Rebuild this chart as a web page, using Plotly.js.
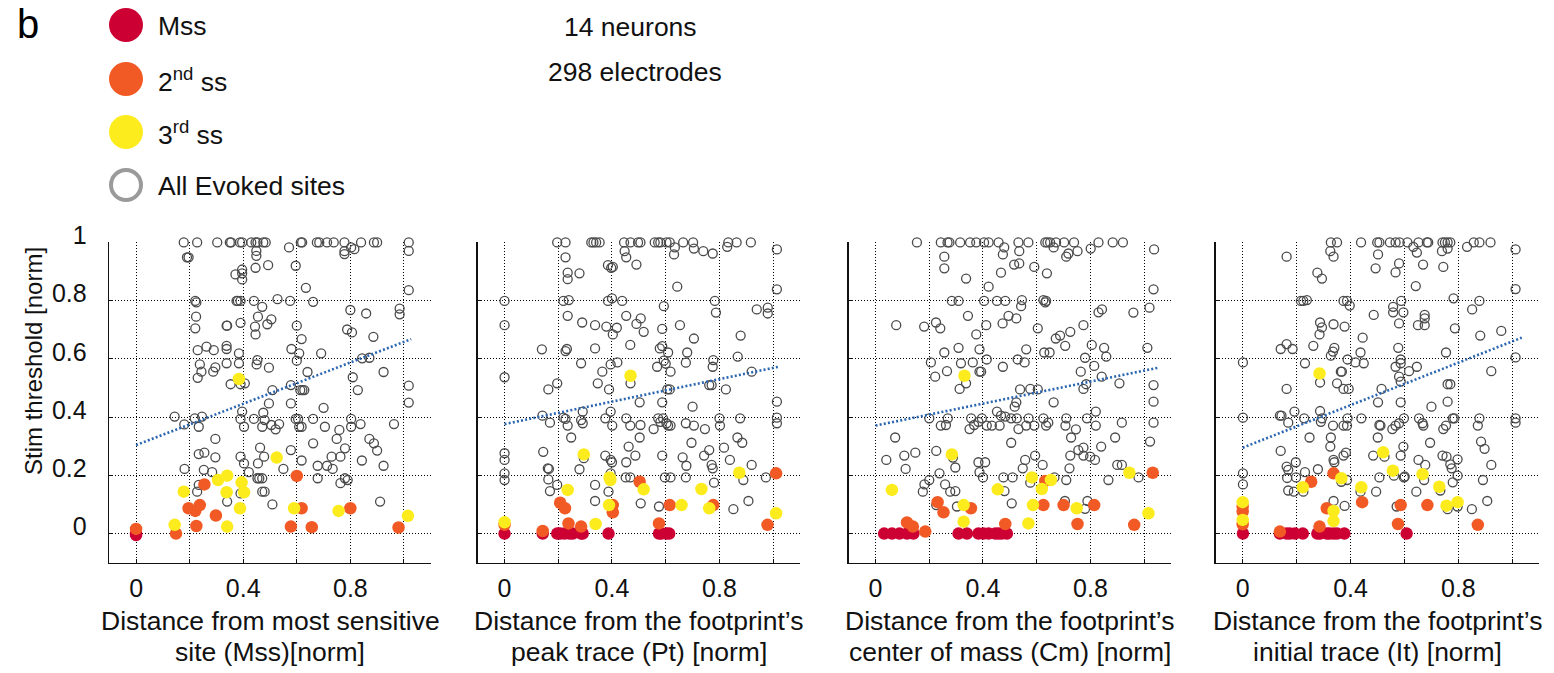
<!DOCTYPE html>
<html><head><meta charset="utf-8">
<script src="https://cdn.plot.ly/plotly-3.0.1.min.js"></script>
<style>html,body{margin:0;padding:0;background:#fff}#chart{width:1554px;height:673px}</style>
</head><body><div id="chart"></div>
<script>
// ---------------- DATA ----------------
const legendLabels = ["Mss", "2<sup>nd</sup> ss", "3<sup>rd</sup> ss", "All Evoked sites"];
const summaryText = ["14 neurons", "298 electrodes"];
const yTickVals = [0, 0.2, 0.4, 0.6, 0.8, 1];
const yTickText = ["0", "0.2", "0.4", "0.6", "0.8", "1"];
const xTickVals = [0, 0.4, 0.8];
const xTickText = ["0", "0.4", "0.8"];
const xTitles = [
  ["Distance from most sensitive", "site (Mss)[norm]"],
  ["Distance from the footprint\u2019s", "peak trace (Pt) [norm]"],
  ["Distance from the footprint\u2019s", "center of mass (Cm) [norm]"],
  ["Distance from the footprint\u2019s", "initial trace (It) [norm]"]
];
const yTitle = "Stim threshold [norm]";

// Panel 1 : Mss distance
const p1TopRowX = [0.178,0.228,0.303,0.35,0.355,0.388,0.396,0.43,0.446,0.453,0.475,0.484,0.615,0.62,0.675,0.684,0.713,0.738,0.778,0.84,0.888,0.9,1.018];
const p1Evoked = [[0.196,0.949],[0.19,0.949],[0.449,0.971],[0.449,0.954],[0.571,0.983],[0.778,0.970],[0.778,0.96],[0.803,0.983],[0.815,0.977],[1.018,0.971],[0.446,0.913],[0.493,0.922],[0.596,0.92],[0.396,0.907],[0.396,0.894],[0.371,0.89],[0.396,0.873],[0.634,0.844],[1.018,0.836],[0.528,0.805],[0.575,0.799],[0.661,0.796],[0.221,0.799],[0.225,0.794],[0.375,0.799],[0.38,0.799],[0.39,0.799],[0.44,0.799],[0.471,0.779],[0.8,0.768],[0.984,0.773],[0.984,0.753],[0.859,0.756],[0.224,0.745],[0.455,0.745],[0.505,0.736],[0.39,0.724],[0.338,0.714],[0.34,0.714],[0.49,0.719],[0.444,0.711],[0.6,0.714],[0.221,0.705],[0.788,0.701],[0.806,0.691],[0.446,0.684],[0.618,0.668],[0.886,0.676],[0.263,0.642],[0.23,0.63],[0.29,0.63],[0.338,0.645],[0.338,0.634],[0.58,0.634],[0.691,0.619],[0.609,0.619],[0.384,0.619],[0.6,0.594],[0.453,0.596],[0.45,0.581],[0.384,0.585],[0.338,0.585],[0.238,0.581],[0.496,0.57],[0.844,0.602],[0.871,0.604],[0.296,0.571],[0.244,0.556],[0.288,0.556],[0.23,0.535],[0.64,0.555],[0.924,0.555],[0.809,0.537],[0.353,0.513],[0.406,0.516],[0.39,0.513],[0.578,0.51],[0.613,0.493],[0.621,0.493],[0.628,0.493],[0.509,0.493],[0.828,0.493],[1.018,0.508],[1.018,0.45],[0.496,0.447],[0.578,0.447],[0.7,0.432],[0.144,0.402],[0.18,0.375],[0.219,0.396],[0.246,0.402],[0.234,0.367],[0.396,0.419],[0.39,0.394],[0.44,0.394],[0.475,0.415],[0.48,0.39],[0.471,0.367],[0.403,0.367],[0.505,0.373],[0.521,0.358],[0.534,0.376],[0.596,0.394],[0.605,0.394],[0.609,0.367],[0.618,0.367],[0.661,0.394],[0.705,0.367],[0.759,0.356],[0.803,0.394],[0.803,0.367],[0.838,0.376],[0.963,0.376],[0.296,0.325],[0.749,0.325],[0.871,0.325],[0.888,0.31],[0.661,0.31],[0.463,0.295],[0.234,0.273],[0.255,0.278],[0.296,0.262],[0.39,0.264],[0.478,0.264],[0.578,0.287],[0.73,0.264],[0.763,0.264],[0.78,0.293],[0.9,0.285],[0.403,0.241],[0.455,0.241],[0.618,0.251],[0.55,0.222],[0.678,0.233],[0.713,0.233],[0.734,0.222],[0.843,0.251],[0.924,0.233],[0.181,0.222],[0.253,0.219],[0.284,0.211],[0.421,0.211],[0.453,0.19],[0.46,0.19],[0.471,0.19],[0.678,0.19],[0.78,0.19],[0.79,0.184],[0.763,0.173],[0.228,0.144],[0.234,0.167],[0.39,0.138],[0.471,0.144],[0.48,0.144],[0.34,0.11],[0.509,0.1],[0.911,0.11]];
const p1Mss = [[0,-0.005],[0,0.0]];
const p1Ss2 = [[0,0.016],[0.149,0],[0.196,0.087],[0.221,0.078],[0.238,0.098],[0.225,0.026],[0.255,0.169],[0.298,0.062],[0.6,0.198],[0.578,0.024],[0.618,0.087],[0.656,0.022],[0.8,0.087],[0.98,0.021]];
const p1Ss3 = [[0.384,0.531],[0.525,0.261],[0.144,0.03],[0.178,0.144],[0.306,0.184],[0.34,0.199],[0.338,0.142],[0.34,0.024],[0.394,0.176],[0.403,0.142],[0.388,0.087],[0.59,0.087],[0.756,0.078],[1.015,0.061]];
const p1TrendX = [0, 1.027];
const p1TrendY = [0.304, 0.668];

// Panel 2 : peak trace
const p2TopRowX = [0.196,0.227,0.323,0.331,0.341,0.354,0.445,0.469,0.497,0.506,0.559,0.572,0.58,0.603,0.615,0.665,0.702,0.833,0.864,0.917];
const p2Evoked = [[0.447,0.97],[0.453,0.949],[0.634,0.983],[0.631,0.959],[0.705,0.979],[0.74,0.97],[0.775,0.962],[0.829,0.985],[1.014,0.976],[0.227,0.949],[0.491,0.924],[0.385,0.922],[0.397,0.913],[0.403,0.916],[0.235,0.896],[0.235,0.874],[0.279,0.894],[0.643,0.848],[1.014,0.839],[0,0.799],[0.219,0.799],[0.239,0.802],[0.385,0.799],[0.4,0.808],[0.438,0.799],[0.593,0.781],[0.783,0.799],[0.787,0.759],[0.939,0.77],[0.98,0.776],[0.98,0.756],[0.235,0.748],[0.453,0.748],[0.507,0.739],[0.491,0.72],[0.289,0.725],[0.337,0.716],[0.379,0.711],[0.418,0.707],[0.403,0.684],[0.518,0.693],[0.653,0.716],[0.587,0.703],[0.705,0.67],[0.879,0.68],[0,0.716],[0.139,0.633],[0.227,0.627],[0.232,0.634],[0.337,0.636],[0.468,0.648],[0.587,0.644],[0.578,0.636],[0.609,0.622],[0.68,0.622],[0.593,0.594],[0.6,0.584],[0.868,0.608],[0.777,0.596],[0.775,0.573],[0.675,0.587],[0.568,0.573],[0.42,0.588],[0.395,0.581],[0.285,0.585],[0.364,0.556],[0.618,0.556],[0.92,0.556],[0,0.537],[0.196,0.516],[0.163,0.495],[0.347,0.516],[0.389,0.495],[0.469,0.516],[0.606,0.495],[0.615,0.495],[0.762,0.51],[0.771,0.51],[0.824,0.495],[0.503,0.451],[0.587,0.451],[0.7,0.436],[1.014,0.453],[0.395,0.419],[0.291,0.419],[0.141,0.405],[0.219,0.398],[0.227,0.394],[0.169,0.381],[0.235,0.371],[0.285,0.39],[0.291,0.379],[0.375,0.396],[0.401,0.371],[0.453,0.396],[0.468,0.371],[0.506,0.373],[0.555,0.359],[0.572,0.396],[0.58,0.384],[0.59,0.396],[0.603,0.379],[0.609,0.371],[0.618,0.371],[0.675,0.379],[0.705,0.371],[0.746,0.359],[0.8,0.396],[0.802,0.371],[0.877,0.396],[1.014,0.398],[1.014,0.379],[0.248,0.33],[0.503,0.33],[0.696,0.312],[0.867,0.33],[0.885,0.312],[0.817,0.295],[0,0.276],[0,0.253],[0.144,0.281],[0.295,0.259],[0.375,0.268],[0.395,0.253],[0.4,0.245],[0.462,0.299],[0.487,0.268],[0.453,0.245],[0.587,0.268],[0.663,0.262],[0.677,0.233],[0.743,0.268],[0.762,0.287],[0.771,0.236],[0.775,0.224],[0.839,0.253],[0.92,0.236],[0.161,0.224],[0.165,0.222],[0.279,0.221],[0,0.207],[0,0.184],[0.163,0.186],[0.196,0.167],[0.169,0.146],[0.337,0.167],[0.387,0.144],[0.395,0.207],[0.451,0.193],[0.468,0.193],[0.597,0.193],[0.618,0.193],[0.675,0.193],[0.78,0.175],[0.889,0.184],[0.973,0.193],[0.337,0.112],[0.507,0.104],[0.575,0.093],[0.852,0.084],[0.908,0.112]];
const p2Mss = [[0,0],[0.142,0],[0.196,0],[0.207,0],[0.223,0],[0.242,0],[0.254,0],[0.285,0],[0.291,0],[0.387,0],[0.575,0],[0.584,0],[0.603,0],[0.613,0]];
const p2Ss2 = [[0,0.03],[0.142,0.009],[0.207,0.106],[0.225,0.087],[0.238,0.035],[0.285,0.024],[0.403,0.098],[0.403,0.073],[0.503,0.178],[0.575,0.035],[0.615,0.098],[0.777,0.098],[0.979,0.03],[1.011,0.207]];
const p2Ss3 = [[0,0.039],[0.295,0.272],[0.469,0.542],[0.235,0.15],[0.339,0.033],[0.389,0.098],[0.391,0.193],[0.394,0.184],[0.518,0.152],[0.659,0.098],[0.733,0.153],[0.762,0.087],[0.874,0.209],[1.011,0.07]];
const p2TrendX = [0, 1.02];
const p2TrendY = [0.376, 0.573];

// Panel 3 : center of mass
const p3TopRowX = [0.154,0.243,0.268,0.275,0.315,0.352,0.375,0.404,0.421,0.458,0.532,0.569,0.632,0.64,0.65,0.672,0.702,0.739,0.83,0.883,0.921];
const p3Evoked = [[0.479,0.983],[0.474,0.959],[0.535,0.97],[0.663,0.983],[0.71,0.951],[0.718,0.962],[0.752,0.97],[0.801,0.979],[1.037,0.976],[0.256,0.951],[0.256,0.911],[0.516,0.924],[0.535,0.928],[0.591,0.916],[0.467,0.896],[0.638,0.894],[0.337,0.876],[0.421,0.848],[1.035,0.839],[0.284,0.799],[0.309,0.799],[0.404,0.799],[0.452,0.799],[0.483,0.799],[0.545,0.802],[0.625,0.802],[0.635,0.799],[0.632,0.794],[0.542,0.781],[0.83,0.76],[0.843,0.77],[0.96,0.759],[1.02,0.776],[0.344,0.748],[0.495,0.748],[0.524,0.739],[0.473,0.722],[0.412,0.716],[0.077,0.716],[0.181,0.711],[0.225,0.725],[0.241,0.705],[0.375,0.684],[0.604,0.705],[0.671,0.67],[0.687,0.68],[0.706,0.645],[0.725,0.693],[0.774,0.716],[0.256,0.622],[0.309,0.638],[0.387,0.633],[0.561,0.633],[0.628,0.622],[0.648,0.622],[0.805,0.648],[0.851,0.638],[0.859,0.608],[1.012,0.638],[0.206,0.588],[0.318,0.585],[0.362,0.588],[0.414,0.598],[0.529,0.598],[0.555,0.588],[0.222,0.539],[0.266,0.558],[0.387,0.556],[0.393,0.556],[0.474,0.573],[0.78,0.604],[0.814,0.576],[0.764,0.556],[0.842,0.539],[0.908,0.516],[1.035,0.51],[0.313,0.497],[0.337,0.516],[0.538,0.495],[0.576,0.497],[0.604,0.495],[0.774,0.497],[0.784,0.513],[0.663,0.451],[0.524,0.451],[0.518,0.436],[1.035,0.453],[0.452,0.419],[0.2,0.396],[0.243,0.371],[0.262,0.373],[0.269,0.396],[0.35,0.359],[0.356,0.396],[0.367,0.373],[0.383,0.384],[0.396,0.396],[0.414,0.371],[0.433,0.371],[0.462,0.371],[0.467,0.405],[0.483,0.402],[0.505,0.396],[0.526,0.396],[0.532,0.359],[0.561,0.371],[0.57,0.396],[0.591,0.371],[0.625,0.396],[0.635,0.371],[0.643,0.381],[0.707,0.371],[0.71,0.396],[0.746,0.358],[0.787,0.396],[0.82,0.371],[0.82,0.419],[0.917,0.381],[1.035,0.381],[0.073,0.33],[0.505,0.312],[0.728,0.33],[0.892,0.33],[1.022,0.316],[0.04,0.253],[0.107,0.268],[0.148,0.278],[0.112,0.222],[0.226,0.284],[0.288,0.261],[0.297,0.227],[0.383,0.245],[0.408,0.245],[0.387,0.211],[0.4,0.193],[0.557,0.253],[0.548,0.224],[0.594,0.268],[0.622,0.236],[0.725,0.268],[0.722,0.224],[0.755,0.287],[0.774,0.295],[0.774,0.268],[0.799,0.264],[0.817,0.253],[0.84,0.299],[0.9,0.236],[0.917,0.236],[0.238,0.207],[0.2,0.184],[0.182,0.169],[0.176,0.144],[0.259,0.169],[0.278,0.144],[0.297,0.146],[0.476,0.193],[0.51,0.193],[0.48,0.146],[0.576,0.175],[0.666,0.193],[0.71,0.184],[0.867,0.184],[0.979,0.193],[0.705,0.112],[0.507,0.104],[0.789,0.112],[0.78,0.085],[0.303,0.093],[0.226,0.098]];
const p3Mss = [[0.032,0],[0.061,0],[0.089,0],[0.117,0],[0.141,0],[0.309,0],[0.34,0],[0.383,0],[0.402,0],[0.421,0],[0.446,0],[0.458,0],[0.47,0],[0.489,0]];
const p3Ss2 = [[0.117,0.038],[0.139,0.024],[0.185,0.007],[0.231,0.108],[0.253,0.073],[0.355,0.087],[0.483,0.033],[0.625,0.098],[0.632,0.181],[0.7,0.098],[0.752,0.033],[0.814,0.098],[0.963,0.03],[1.032,0.209]];
const p3Ss3 = [[0.061,0.15],[0.284,0.272],[0.331,0.542],[0.328,0.098],[0.328,0.041],[0.455,0.152],[0.569,0.035],[0.582,0.193],[0.586,0.098],[0.619,0.153],[0.653,0.184],[0.749,0.087],[0.945,0.209],[1.016,0.07]];
const p3TrendX = [0, 1.054];
const p3TrendY = [0.371, 0.570];

// Panel 4 : initial trace
const p4TopRowX = [0.327,0.35,0.439,0.499,0.507,0.546,0.567,0.582,0.611,0.652,0.683,0.688,0.741,0.75,0.76,0.77,0.857,0.878,0.919];
const p4Evoked = [[0.325,0.97],[0.337,0.951],[0.163,0.951],[0.502,0.959],[0.633,0.985],[0.646,0.965],[0.739,0.97],[0.76,0.979],[0.832,0.985],[1.012,0.976],[0.493,0.911],[0.58,0.928],[0.567,0.897],[0.669,0.924],[0.744,0.916],[0.277,0.896],[0.294,0.876],[0.642,0.85],[1.012,0.84],[0.216,0.799],[0.225,0.799],[0.238,0.802],[0.374,0.799],[0.387,0.799],[0.397,0.783],[0.558,0.779],[0.588,0.799],[0.596,0.76],[0.558,0.76],[0.486,0.751],[0.675,0.751],[0.675,0.739],[0.65,0.716],[0.675,0.716],[0.782,0.808],[0.878,0.799],[0.851,0.77],[0.287,0.725],[0.294,0.708],[0.285,0.684],[0.337,0.719],[0.378,0.711],[0.58,0.722],[0.787,0.705],[0.881,0.68],[0.959,0.696],[0.445,0.673],[0.262,0.645],[0.163,0.651],[0.141,0.634],[0.185,0.634],[0.34,0.638],[0.335,0.625],[0.327,0.611],[0.437,0.622],[0.577,0.638],[0.754,0.622],[0.001,0.588],[0.231,0.585],[0.389,0.598],[0.418,0.588],[0.449,0.585],[0.567,0.573],[0.586,0.598],[0.586,0.585],[0.617,0.558],[0.646,0.573],[0.922,0.558],[1.012,0.605],[0.287,0.519],[0.35,0.516],[0.364,0.556],[0.368,0.556],[0.374,0.497],[0.393,0.497],[0.163,0.497],[0.515,0.497],[0.58,0.539],[0.586,0.522],[0.586,0.451],[0.502,0.451],[0.7,0.436],[0.76,0.513],[0.77,0.513],[0.76,0.453],[0.192,0.419],[0.138,0.405],[0.144,0.405],[0.169,0.381],[0.228,0.396],[0.287,0.421],[0.29,0.384],[0.294,0.396],[0.335,0.371],[0.374,0.371],[0.387,0.371],[0.389,0.396],[0.44,0.396],[0.507,0.373],[0.511,0.371],[0.555,0.359],[0.567,0.371],[0.58,0.379],[0.598,0.396],[0.654,0.396],[0.667,0.379],[0.67,0.371],[0.744,0.359],[0.754,0.371],[0.779,0.396],[0.785,0.396],[0.872,0.371],[0.878,0.396],[1.012,0.396],[1.012,0.381],[0.001,0.398],[0.248,0.33],[0.327,0.33],[0.501,0.33],[0.325,0.299],[0.337,0.253],[0.34,0.245],[0.374,0.268],[0.383,0.278],[0.484,0.268],[0.526,0.264],[0.586,0.268],[0.596,0.299],[0.695,0.312],[0.741,0.268],[0.756,0.264],[0.797,0.255],[0.884,0.316],[0.897,0.291],[0.922,0.236],[0.652,0.253],[0.677,0.236],[0.77,0.238],[0.775,0.224],[0.141,0.284],[0.163,0.23],[0.169,0.219],[0.165,0.191],[0.197,0.245],[0.198,0.193],[0.231,0.211],[0.279,0.221],[0.001,0.207],[0.001,0.169],[0.169,0.148],[0.19,0.144],[0.225,0.144],[0.366,0.178],[0.387,0.184],[0.507,0.193],[0.561,0.199],[0.598,0.193],[0.601,0.196],[0.673,0.184],[0.733,0.148],[0.779,0.176],[0.797,0.199],[0.891,0.184],[0.495,0.144],[0.437,0.144],[0.644,0.144],[0.337,0.112],[0.378,0.095],[0.571,0.093],[0.76,0.084],[0.797,0.093],[0.85,0.084],[0.907,0.112]];
const p4Mss = [[0.001,0],[0.138,0],[0.163,0],[0.175,0],[0.194,0],[0.223,0],[0.277,0],[0.287,0],[0.312,0],[0.322,0],[0.337,0],[0.35,0],[0.377,0],[0.608,0]];
const p4Ss2 = [[0,0.093],[0,0.076],[0,0.032],[0.138,0.007],[0.285,0.024],[0.254,0.178],[0.337,0.207],[0.312,0.087],[0.443,0.108],[0.586,0.098],[0.576,0.033],[0.685,0.098],[0.872,0.03]];
const p4Ss3 = [[0,0.108],[0,0.047],[0.285,0.55],[0.223,0.159],[0.366,0.19],[0.337,0.078],[0.337,0.043],[0.44,0.159],[0.521,0.279],[0.557,0.216],[0.667,0.204],[0.729,0.161],[0.756,0.096],[0.797,0.108]];
const p4TrendX = [0, 1.035];
const p4TrendY = [0.295, 0.673];

// ---------------- STYLE / LAYOUT ----------------
const W = 1554, H = 673;
const FONT = "Liberation Sans, Arial, Helvetica, sans-serif";
const C_MSS = "#cc0033", C_SS2 = "#f15a24", C_SS3 = "#fcec1e", C_EVOKED = "#4a4a4a", C_RING = "#9a9a9a", C_TREND = "#2a66b0";
const fx = p => p / W;
const fy = p => 1 - p / H;

const panels = [
  {top: p1TopRowX, evoked: p1Evoked, mss: p1Mss, ss2: p1Ss2, ss3: p1Ss3, tx: p1TrendX, ty: p1TrendY, px: [109.3, 430.7]},
  {top: p2TopRowX, evoked: p2Evoked, mss: p2Mss, ss2: p2Ss2, ss3: p2Ss3, tx: p2TrendX, ty: p2TrendY, px: [477.7, 800]},
  {top: p3TopRowX, evoked: p3Evoked, mss: p3Mss, ss2: p3Ss2, ss3: p3Ss3, tx: p3TrendX, ty: p3TrendY, px: [848.7, 1171]},
  {top: p4TopRowX, evoked: p4Evoked, mss: p4Mss, ss2: p4Ss2, ss3: p4Ss3, tx: p4TrendX, ty: p4TrendY, px: [1215.7, 1539.3]}
];
const plotTop = 242.3, plotBottom = 562.7;

const traces = [];
const layout = {
  width: W, height: H,
  margin: {l: 0, r: 0, t: 0, b: 0},
  paper_bgcolor: "#fff", plot_bgcolor: "#fff",
  showlegend: false,
  font: {family: FONT, color: "#111"},
  annotations: [], shapes: []
};

panels.forEach((p, i) => {
  const n = i + 1, sfx = n === 1 ? "" : String(n);
  const xa = "x" + sfx, ya = "y" + sfx;
  const evX = p.top.concat(p.evoked.map(d => d[0]));
  const evY = p.top.map(() => 1).concat(p.evoked.map(d => d[1]));
  traces.push({type: "scatter", mode: "markers", x: evX, y: evY, xaxis: xa, yaxis: ya, cliponaxis: false,
    marker: {symbol: "circle-open", size: 9, color: C_EVOKED, line: {width: 1.3, color: C_EVOKED}}, hoverinfo: "skip"});
  traces.push({type: "scatter", mode: "lines", x: p.tx, y: p.ty, xaxis: xa, yaxis: ya,
    line: {color: C_TREND, width: 2.6, dash: "2px,2.2px"}, hoverinfo: "skip"});
  [[p.mss, C_MSS], [p.ss2, C_SS2], [p.ss3, C_SS3]].forEach(([arr, col]) => {
    traces.push({type: "scatter", mode: "markers", x: arr.map(d => d[0]), y: arr.map(d => d[1]), xaxis: xa, yaxis: ya, cliponaxis: false,
      marker: {symbol: "circle", size: 12.5, color: col, line: {width: 0}}, hoverinfo: "skip"});
  });
  layout["xaxis" + sfx] = {
    domain: [fx(p.px[0]), fx(p.px[1])], anchor: ya, range: [-0.1, 1.1],
    tickmode: "array", tickvals: xTickVals, ticktext: xTickText,
    showgrid: true, gridcolor: "#000", gridwidth: 1, griddash: "1px,2px",
    minor: {tick0: 0, dtick: 0.2, showgrid: true, gridcolor: "#000", gridwidth: 1, griddash: "1px,2px",
            ticks: "inside", ticklen: 4, tickcolor: "#111", tickwidth: 1},
    showline: true, linecolor: "#111", linewidth: 1.6, zeroline: false,
    ticks: "inside", ticklen: 4, tickcolor: "#111", tickwidth: 1,
    tickfont: {size: 25, family: FONT, color: "#111"}, ticklabelstandoff: 3, fixedrange: true
  };
  layout["yaxis" + sfx] = {
    domain: [fy(plotBottom), fy(plotTop)], anchor: xa, range: [-0.1, 1.0005],
    tickmode: "array", tickvals: yTickVals, ticktext: yTickText, showticklabels: n === 1,
    showgrid: true, gridcolor: "#000", gridwidth: 1, griddash: "1px,2px",
    showline: true, linecolor: "#111", linewidth: 1.6, zeroline: false,
    ticks: "inside", ticklen: 4, tickcolor: "#111", tickwidth: 1,
    tickfont: {size: 25, family: FONT, color: "#111"}, ticklabelstandoff: 16, ticklabelshift: -7, fixedrange: true
  };
  const cx = fx((p.px[0] + p.px[1]) / 2);
  layout.annotations.push({xref: "paper", yref: "paper", x: cx, y: fy(621), xanchor: "center", yanchor: "middle",
    text: xTitles[i][0], showarrow: false, font: {size: 26.5, family: FONT, color: "#111"}});
  layout.annotations.push({xref: "paper", yref: "paper", x: cx, y: fy(652), xanchor: "center", yanchor: "middle",
    text: xTitles[i][1], showarrow: false, font: {size: 26.5, family: FONT, color: "#111"}});
});

layout.annotations.push({xref: "paper", yref: "paper", x: fx(33), y: fy(361), xanchor: "center", yanchor: "middle",
  text: yTitle, textangle: -90, showarrow: false, font: {size: 24, family: FONT, color: "#111"}});

// panel letter
layout.annotations.push({xref: "paper", yref: "paper", x: fx(28), y: fy(24), xanchor: "center", yanchor: "middle",
  text: "b", showarrow: false, font: {size: 40, family: FONT, color: "#000"}});

// legend
const legY = [25, 79, 132, 185];
const legFill = [C_MSS, C_SS2, C_SS3, null];
legY.forEach((yy, k) => {
  const r = 17;
  if (legFill[k]) {
    layout.shapes.push({type: "circle", xref: "paper", yref: "paper",
      x0: fx(126 - r), x1: fx(126 + r), y0: fy(yy + r), y1: fy(yy - r),
      fillcolor: legFill[k], line: {width: 0}});
  } else {
    layout.shapes.push({type: "circle", xref: "paper", yref: "paper",
      x0: fx(126 - r + 2), x1: fx(126 + r - 2), y0: fy(yy + r - 2), y1: fy(yy - r + 2),
      fillcolor: "rgba(0,0,0,0)", line: {width: 4, color: C_RING}});
  }
  layout.annotations.push({xref: "paper", yref: "paper", x: fx(156), y: fy(yy + 1), xanchor: "left", yanchor: "middle",
    text: legendLabels[k], showarrow: false, font: {size: 26.5, family: FONT, color: "#111"}});
});

// summary text
layout.annotations.push({xref: "paper", yref: "paper", x: fx(630), y: fy(27), xanchor: "center", yanchor: "middle",
  text: summaryText[0], showarrow: false, font: {size: 26.5, family: FONT, color: "#111"}});
layout.annotations.push({xref: "paper", yref: "paper", x: fx(635), y: fy(72), xanchor: "center", yanchor: "middle",
  text: summaryText[1], showarrow: false, font: {size: 26.5, family: FONT, color: "#111"}});

Plotly.newPlot("chart", traces, layout, {staticPlot: true, displayModeBar: false});
</script>
</body></html>
